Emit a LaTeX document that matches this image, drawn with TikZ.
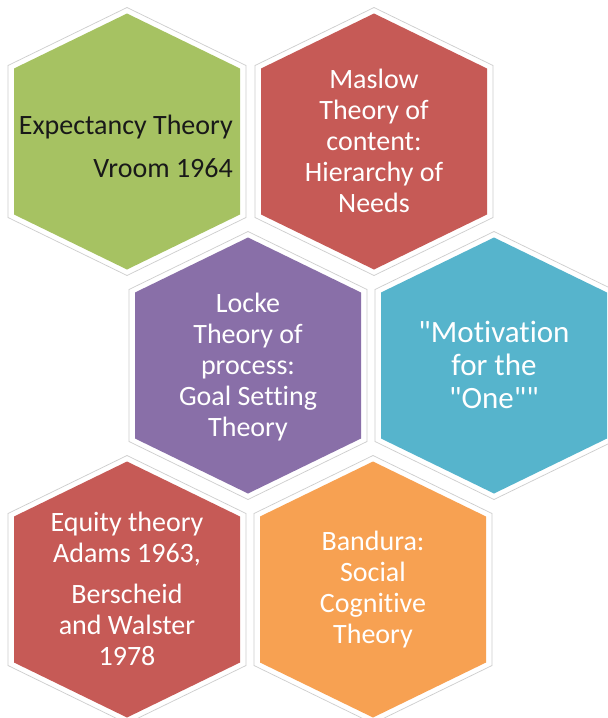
\documentclass[tikz,border=0pt]{standalone}
\usepackage{fontspec}
\setmainfont{Carlito}[Ligatures={TeXOff,NoCommon}]
\definecolor{cellgreen}{RGB}{166,194,98}
\definecolor{cellred}{RGB}{198,90,86}
\definecolor{cellpurple}{RGB}{137,111,168}
\definecolor{cellcyan}{RGB}{86,180,204}
\definecolor{cellorange}{RGB}{247,161,82}
\definecolor{ringgray}{RGB}{205,205,205}
\tikzset{
  hexring/.style={fill=white, draw=ringgray, line width=0.7pt},
  hexlabel/.style={text=white, align=center, inner sep=0pt,
    font=\fontsize{28}{31}\selectfont},
}
% #1 name, #2 centre, #3 fill colour
\newcommand\hexcell[3]{%
  \path[hexring] (#2) ++(0,-134) -- ++(119,58) -- ++(0,152) -- ++(-119,58)
    -- ++(-119,-58) -- ++(0,-152) -- cycle;
  \path[fill=#3] (#2) ++(0,-128) -- ++(113,55) -- ++(0,146) -- ++(-113,55)
    -- ++(-113,-55) -- ++(0,-146) -- cycle;
  \coordinate (#1) at (#2);}
\begin{document}
\begin{tikzpicture}[x=1pt,y=-1pt]
\useasboundingbox[fill=white] (0,0) rectangle (608,718);

\hexcell{expect}{127,141.5}{cellgreen}
\hexcell{maslow}{374,141.5}{cellred}
\hexcell{locke}{248,365.5}{cellpurple}
\hexcell{motiv}{494,365.5}{cellcyan}
\hexcell{equity}{127,589.5}{cellred}
\hexcell{bandura}{373,589.5}{cellorange}

\node[hexlabel, text=black!90, align=right, anchor=east] (expecttext)
  at (233,146) {Expectancy Theory\\[12pt]Vroom 1964};
\node[hexlabel] (maslowtext) at (374,141)
  {Maslow\\Theory of\\content:\\Hierarchy of\\Needs};
\node[hexlabel] (locketext) at (248,367)
  {Locke\\Theory of\\process:\\Goal Setting\\Theory};
\node[hexlabel, font=\fontsize{31}{33}\selectfont] (motivtext) at (494,365)
  {"Motivation\\for the\\"One""};
\node[hexlabel] (equitytext) at (127,589)
  {Equity theory\\Adams 1963,\\[10pt]Berscheid\\and Walster\\1978};
\node[hexlabel] (banduratext) at (373,590)
  {Bandura:\\Social\\Cognitive\\Theory};
\end{tikzpicture}
\end{document}
